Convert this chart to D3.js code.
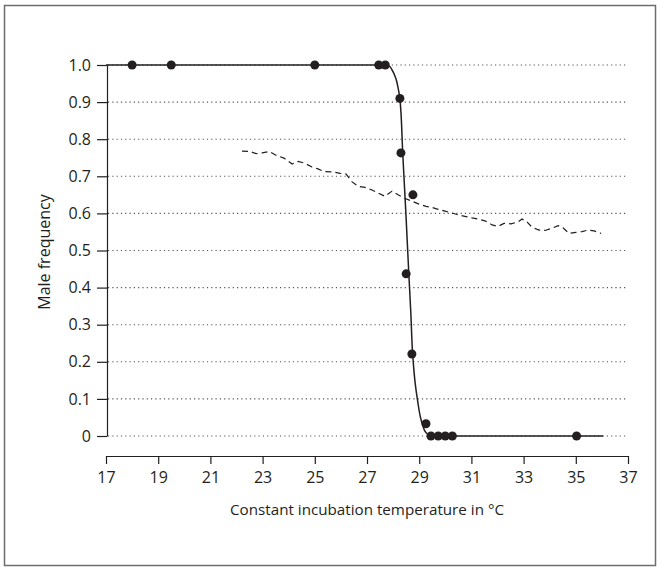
<!DOCTYPE html>
<html><head><meta charset="utf-8">
<script src="https://cdn.jsdelivr.net/npm/d3@7"></script>
<style>body{margin:0;background:#fff}</style>
</head><body>
<svg id="c" width="660" height="571"></svg>
<script>
const xTicks = [17,19,21,23,25,27,29,31,33,35,37];
const yTicks = [0,0.1,0.2,0.3,0.4,0.5,0.6,0.7,0.8,0.9,1.0];
const yTickLabels = ["0","0.1","0.2","0.3","0.4","0.5","0.6","0.7","0.8","0.9","1.0"];
const xLabel = "Constant incubation temperature in °C";
const yLabel = "Male frequency";

// observed male frequencies
const obsTemp = [18,19.5,25,27.45,27.7,28.26,28.3,28.76,28.5,28.72,29.26,29.45,29.73,30.0,30.27,35.03];
const obsFreq = [1,1,1,1,1,0.91,0.763,0.65,0.437,0.221,0.033,0,0,0,0,0];

// fitted curve
const fitTemp = [17,27.7,27.85,27.95,28.1,28.2,28.26,28.37,28.49,28.6,28.68,28.75,28.85,28.95,29.05,29.15,29.25,29.4,29.55,36.05];
const fitFreq = [1,1,0.997,0.988,0.965,0.935,0.91,0.76,0.6,0.44,0.33,0.22,0.14,0.09,0.05,0.025,0.01,0.002,0,0];

// dashed series
const dashTemp = [22.21,22.52,22.75,22.98,23.25,23.51,23.82,24.13,24.36,24.59,24.89,25.12,25.35,25.66,25.97,26.2,26.43,26.66,26.92,27.19,27.42,27.69,27.96,28.19,28.46,28.72,28.99,29.26,29.49,29.72,29.99,30.26,30.49,30.75,31.02,31.25,31.52,31.79,32.02,32.25,32.52,32.79,32.94,33.13,33.32,33.59,33.82,34.05,34.32,34.51,34.74,35.01,35.24,35.47,35.7,35.97];
const dashFreq = [0.768,0.767,0.761,0.763,0.767,0.757,0.749,0.733,0.74,0.736,0.725,0.72,0.713,0.712,0.708,0.706,0.685,0.673,0.67,0.663,0.655,0.646,0.66,0.65,0.64,0.633,0.625,0.619,0.616,0.611,0.606,0.601,0.596,0.592,0.588,0.585,0.58,0.569,0.565,0.573,0.572,0.577,0.585,0.577,0.563,0.555,0.554,0.559,0.567,0.561,0.546,0.549,0.551,0.555,0.553,0.546];

const svg = d3.select("#c");
const font = "'Open Sans', sans-serif";
const ink = "#231f20";

svg.append("rect").attr("x",4.5).attr("y",5.5).attr("width",651).attr("height",560)
  .attr("fill","none").attr("stroke","#6d6d6d").attr("stroke-width",1.5);

const x = d3.scaleLinear().domain([17,37]).range([106,628]);
const y = d3.scaleLinear().domain([0,1]).range([436,65]);

// gridlines
svg.append("g").selectAll("line").data(yTicks).join("line")
  .attr("x1",108).attr("x2",628).attr("y1",d=>y(d)).attr("y2",d=>y(d))
  .attr("stroke","#555").attr("stroke-width",1.1).attr("stroke-dasharray","1.2,3.1");

// y axis
const ya = svg.append("g").attr("transform","translate(107,0)")
  .call(d3.axisLeft(y).tickValues(yTicks).tickFormat((d,i)=>yTickLabels[i]).tickSize(10).tickPadding(6).tickSizeOuter(0));
ya.select(".domain").attr("stroke",ink).attr("stroke-width",1.2);
ya.selectAll(".tick line").attr("stroke",ink).attr("stroke-width",1.2);
ya.selectAll("text").attr("font-family",font).attr("font-size",16).attr("fill",ink);

// x axis
const xa = svg.append("g").attr("transform","translate(0,456)")
  .call(d3.axisBottom(x).tickValues(xTicks).tickFormat(d3.format("d")).tickSize(8).tickPadding(8).tickSizeOuter(0));
xa.select(".domain").attr("stroke",ink).attr("stroke-width",1.2);
xa.selectAll(".tick line").attr("stroke",ink).attr("stroke-width",1.2);
xa.selectAll("text").attr("font-family",font).attr("font-size",16).attr("fill",ink);

svg.append("text").attr("x",367).attr("y",515).attr("text-anchor","middle")
  .attr("font-family",font).attr("font-size",15.2).attr("fill",ink).text(xLabel);
svg.append("text").attr("transform","translate(50,252) rotate(-90)").attr("text-anchor","middle")
  .attr("font-family",font).attr("font-size",16).attr("fill",ink).text(yLabel);

// dashed line
svg.append("path").datum(dashTemp.map((t,i)=>[t,dashFreq[i]]))
  .attr("d",d3.line().x(d=>x(d[0])).y(d=>y(d[1])))
  .attr("fill","none").attr("stroke",ink).attr("stroke-width",1.2).attr("stroke-dasharray","6,4");

// fitted curve
svg.append("path").datum(fitTemp.map((t,i)=>[t,fitFreq[i]]))
  .attr("d",d3.line().x(d=>x(d[0])).y(d=>y(d[1])).curve(d3.curveMonotoneY))
  .attr("fill","none").attr("stroke",ink).attr("stroke-width",1.5);

// points
svg.append("g").selectAll("circle").data(obsTemp.map((t,i)=>[t,obsFreq[i]])).join("circle")
  .attr("cx",d=>x(d[0])).attr("cy",d=>y(d[1])).attr("r",4.5).attr("fill",ink);
</script>
</body></html>
